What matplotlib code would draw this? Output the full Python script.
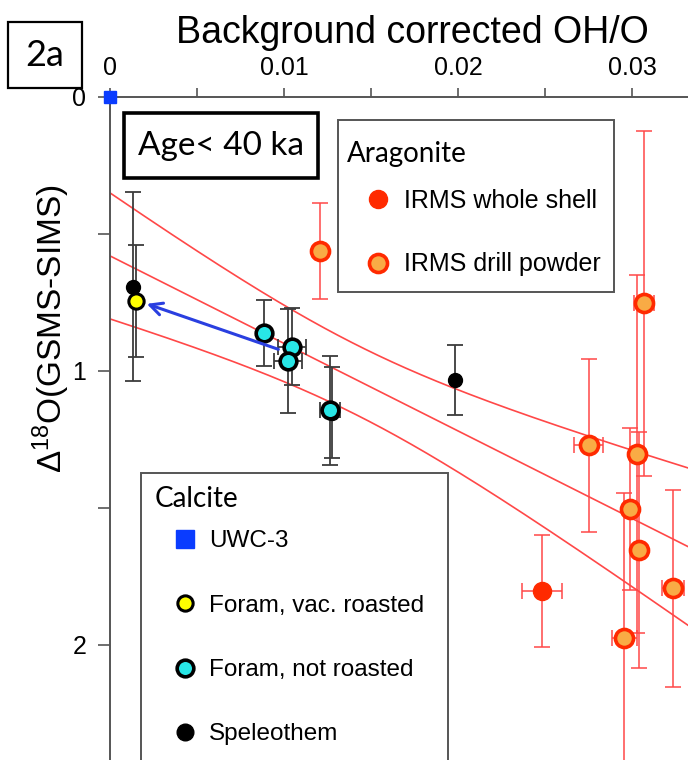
import numpy as np
import matplotlib
matplotlib.use('Agg')
import matplotlib.pyplot as plt
from matplotlib.patches import Rectangle

plt.rcParams['font.family'] = ['Liberation Sans', 'DejaVu Sans']
plt.rcParams['mathtext.default'] = 'regular'

# Calcite
uwc_x = [0.0]
uwc_y = [0.0]

vac_x = [0.0015]
vac_y = [0.745]
vac_yerr = [0.205]

notr_x = [0.00887, 0.01044, 0.0102, 0.01262]
notr_y = [0.862, 0.911, 0.962, 1.144]
notr_yerr = [0.12, 0.14, 0.19, 0.199]
notr_xerr = [0.0, 0.0008, 0.0008, 0.00057]

spel_x = [0.00134, 0.01276, 0.01983]
spel_y = [0.692, 1.153, 1.033]
spel_yerr = [0.345, 0.166, 0.126]

# Aragonite
whole_x = [0.02481]
whole_y = [1.803]
whole_yerr = [0.203]
whole_xerr = [0.00115]

drill_x = [0.01207, 0.02749, 0.03065, 0.03027, 0.02985, 0.03036, 0.03233, 0.02954]
drill_y = [0.562, 1.272, 0.753, 1.303, 1.504, 1.653, 1.793, 1.973]
drill_yerr = [0.175, 0.315, 0.629, 0.654, 0.297, 0.43, 0.36, 0.526]
drill_xerr = [0.0, 0.00081, 0.00057, 0.0004, 0.0003, 0.0, 0.00064, 0.00072]

# regression line and confidence band
fit_b0 = 0.58
fit_b1 = 31.96
band_a = 0.01633
band_b = 182.4
band_xm = 0.01416

# arrow from roasted-shift
arrow_from = (0.00967, 0.921)
arrow_to = (0.00211, 0.755)

red = '#ff2a00'
orange = '#f9ab45'
line_red = '#ff4848'
bar_grey = '#3c3c3c'

W, H = 688, 760
fig = plt.figure(figsize=(W / 100, H / 100), dpi=100)
ax = fig.add_axes([110 / W, 0, (W - 110) / W, (H - 97) / H])

xmax = 0.0332
xs = np.linspace(0, xmax, 300)
fit = fit_b0 + fit_b1 * xs
hw = np.sqrt(band_a + band_b * (xs - band_xm) ** 2)
for yy in (fit - hw, fit, fit + hw):
    ax.plot(xs, yy, color=line_red, lw=1.2, zorder=1)

# error bars
ax.errorbar(drill_x, drill_y, yerr=drill_yerr, xerr=drill_xerr, fmt='none',
            ecolor=line_red, elinewidth=1.1, capsize=5.5, capthick=1.1, zorder=2)
ax.errorbar(whole_x, whole_y, yerr=whole_yerr, xerr=whole_xerr, fmt='none',
            ecolor=line_red, elinewidth=1.1, capsize=5.5, capthick=1.1, zorder=2)
ax.errorbar(spel_x, spel_y, yerr=spel_yerr, fmt='none',
            ecolor=bar_grey, elinewidth=1.3, capsize=5.5, capthick=1.3, zorder=2)
ax.errorbar(vac_x, vac_y, yerr=vac_yerr, fmt='none',
            ecolor=bar_grey, elinewidth=1.3, capsize=5.5, capthick=1.3, zorder=2)
ax.errorbar(notr_x, notr_y, yerr=notr_yerr, xerr=notr_xerr, fmt='none',
            ecolor=bar_grey, elinewidth=1.3, capsize=5.5, capthick=1.3, zorder=2)

# markers
h_whole, = ax.plot(whole_x, whole_y, 'o', ms=13, mfc=red, mec=red, mew=1,
                   ls='none', label='IRMS whole shell', zorder=4)
h_drill, = ax.plot(drill_x, drill_y, 'o', ms=13, mfc=orange, mec=red, mew=2.6,
                   ls='none', label='IRMS drill powder', zorder=4)
h_uwc, = ax.plot(uwc_x, uwc_y, 's', ms=9, color='#0a3cff', ls='none',
                 label='UWC-3', zorder=10, clip_on=False)
h_spel, = ax.plot(spel_x, spel_y, 'o', ms=10, color='black', ls='none',
                  label='Speleothem', zorder=3)
h_vac, = ax.plot(vac_x, vac_y, 'o', ms=11, mfc='#ffff00', mec='black', mew=2.2,
                 ls='none', label='Foram, vac. roasted', zorder=4)
h_notr, = ax.plot(notr_x, notr_y, 'o', ms=12, mfc='#28e6e6', mec='black', mew=2.6,
                  ls='none', label='Foram, not roasted', zorder=4)

ax.annotate('', xy=arrow_to, xytext=arrow_from,
            arrowprops=dict(arrowstyle='->', color='#2a3fe0', lw=2.2,
                            mutation_scale=22, shrinkA=0, shrinkB=0), zorder=5)

# axes
ax.set_xlim(0, xmax)
ax.set_ylim(2.42, 0)
ax.xaxis.tick_top()
ax.xaxis.set_label_position('top')
ax.set_xticks([0, 0.01, 0.02, 0.03])
ax.set_xticklabels(['0', '0.01', '0.02', '0.03'])
ax.set_xticks([0.005, 0.015, 0.025], minor=True)
ax.set_yticks([0, 1, 2])
ax.set_yticks([0.5, 1.5], minor=True)
ax.tick_params(axis='x', which='both', direction='out', length=6.5, width=1.2,
               color='#555555', labelsize=18, pad=6)
ax.tick_params(axis='y', which='both', direction='out', length=9, width=1.2,
               color='#555555', labelsize=18, pad=8)
for s in ('bottom', 'right'):
    ax.spines[s].set_visible(False)
for s in ('top', 'left'):
    ax.spines[s].set_color('#555555')
    ax.spines[s].set_linewidth(1.4)

ax.set_xlabel('Background corrected OH/O', fontsize=27, labelpad=9)
ax.xaxis.label.set_x(0.524)
ax.set_ylabel('Δ$^{18}$O(GSMS-SIMS)', fontsize=24)
ax.yaxis.set_label_coords(-0.066, 0.65)

# legends (frames drawn separately)
leg1 = ax.legend(handles=[h_whole, h_drill], loc='upper left',
                 bbox_to_anchor=(338 / W, 1 - 132 / H), bbox_transform=fig.transFigure,
                 borderaxespad=0, title='Aragonite', alignment='left',
                 title_fontproperties={'family': 'Lato', 'size': 20},
                 prop={'size': 18}, frameon=False,
                 borderpad=0.35, handlelength=2.5, handletextpad=-0.2,
                 labelspacing=1.58)
leg1._legend_box.sep = 16
ax.add_artist(leg1)

leg2 = ax.legend(handles=[h_uwc, h_vac, h_notr, h_spel], loc='upper left',
                 bbox_to_anchor=(141 / W, 1 - 473 / H), bbox_transform=fig.transFigure,
                 borderaxespad=0, title='Calcite', alignment='left',
                 title_fontproperties={'family': 'Lato', 'size': 20},
                 prop={'size': 17.5}, frameon=False,
                 borderpad=0.55, handlelength=2.5, handletextpad=-0.25,
                 labelspacing=1.74)
leg2._legend_box.sep = 13
leg2.legend_handles[0].set_markersize(13)
leg2.legend_handles[3].set_markersize(12)

# frames and boxed labels
fig.patches.append(Rectangle((338 / W, 1 - 292 / H), 276 / W, 172 / H, transform=fig.transFigure,
                             facecolor='none', edgecolor='#555555', lw=1.4, zorder=5))
fig.patches.append(Rectangle((141 / W, 1 - 790 / H), 307 / W, 317 / H, transform=fig.transFigure,
                             facecolor='none', edgecolor='#555555', lw=1.4, zorder=5))
fig.patches.append(Rectangle((8 / W, 1 - 88 / H), 74 / W, 66 / H, transform=fig.transFigure,
                             fill=False, edgecolor='black', lw=1.6))
fig.text(45 / W, 1 - 56 / H, '2a', family='Lato', fontsize=26, ha='center', va='center')
fig.patches.append(Rectangle((124 / W, 1 - 178 / H), 194 / W, 65 / H, transform=fig.transFigure,
                             fill=False, edgecolor='black', lw=2.6))
fig.text(221 / W, 1 - 146 / H, 'Age< 40 ka', family='Lato', fontsize=24, ha='center', va='center')

fig.savefig('out.png', dpi=100)
